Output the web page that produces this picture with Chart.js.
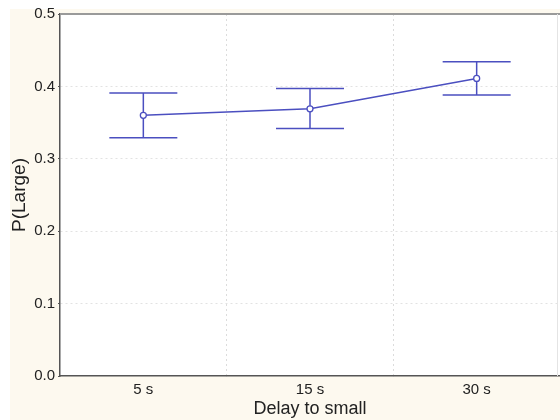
<!DOCTYPE html>
<html>
<head>
<meta charset="utf-8">
<title>P(Large) by delay</title>
<script src="https://cdn.jsdelivr.net/npm/chart.js@4.4.1/dist/chart.umd.min.js"></script>
<style>
  html, body { margin: 0; padding: 0; background: #fff; }
  #wrap { width: 560px; height: 420px; }
</style>
</head>
<body>
<div id="wrap"><canvas id="chart" width="560" height="420"></canvas></div>
<script>
// delays and mean proportion of large choices, with error bar ends
const delays = ['5 s', '15 s', '30 s'];
const pLarge = [0.360, 0.369, 0.411];
const pUpper = [0.391, 0.397, 0.434];
const pLower = [0.329, 0.342, 0.388];
const yTicks = [0.0, 0.1, 0.2, 0.3, 0.4, 0.5];

const BLUE = '#4b4fc0';
const FONT = "'Liberation Sans', Arial, Helvetica, sans-serif";

// cream figure background, white plot panel, grey frame on top
const panel = {
    id: 'panel',
    beforeDraw(chart) {
        const { ctx, chartArea: a } = chart;
        ctx.save();
        ctx.fillStyle = '#ffffff';
        ctx.fillRect(0, 0, chart.width, chart.height);
        ctx.fillStyle = '#fdf9ef';
        ctx.fillRect(10, 9, chart.width - 10, chart.height - 9);
        ctx.fillStyle = '#ffffff';
        ctx.fillRect(a.left, a.top, a.right - a.left, a.bottom - a.top);
        ctx.restore();
    },
    afterDraw(chart) {
        const { ctx, chartArea: a } = chart;
        ctx.save();
        ctx.strokeStyle = '#9a9a9a';
        ctx.lineWidth = 2;
        ctx.beginPath();
        ctx.moveTo(a.left, a.top);
        ctx.lineTo(chart.width, a.top);
        ctx.stroke();
        ctx.strokeStyle = '#e4e4e4';
        ctx.lineWidth = 1;
        ctx.beginPath();
        ctx.moveTo(a.right - 2.5, a.top);
        ctx.lineTo(a.right - 2.5, a.bottom);
        ctx.stroke();
        ctx.restore();
    }
};

// vertical error bars with caps, drawn under the points
const errorBars = {
    id: 'errorBars',
    beforeDatasetsDraw(chart) {
        const { ctx, scales: { x, y } } = chart;
        ctx.save();
        ctx.strokeStyle = BLUE;
        ctx.lineWidth = 1.5;
        delays.forEach((d, i) => {
            const px = x.getPixelForValue(i);
            const top = y.getPixelForValue(pUpper[i]);
            const bot = y.getPixelForValue(pLower[i]);
            ctx.beginPath();
            ctx.moveTo(px, top);
            ctx.lineTo(px, bot);
            ctx.moveTo(px - 34, top);
            ctx.lineTo(px + 34, top);
            ctx.moveTo(px - 34, bot);
            ctx.lineTo(px + 34, bot);
            ctx.stroke();
        });
        ctx.restore();
    }
};

new Chart(document.getElementById('chart'), {
    type: 'line',
    data: {
        labels: delays,
        datasets: [{
            data: pLarge,
            borderColor: BLUE,
            borderWidth: 1.5,
            pointRadius: 3,
            pointBackgroundColor: '#ffffff',
            pointBorderColor: BLUE,
            pointBorderWidth: 1.3,
            tension: 0
        }]
    },
    options: {
        responsive: false,
        animation: false,
        layout: { autoPadding: false, padding: { top: 14, right: 0, left: 0, bottom: 0 } },
        plugins: {
            legend: { display: false },
            tooltip: { enabled: false }
        },
        scales: {
            x: {
                offset: true,
                grid: {
                    offset: true,
                    color: '#dcdcdc',
                    tickLength: 0,
                    lineWidth: 1
                },
                border: { color: '#555', width: 1.5, dash: [2, 3] },
                ticks: {
                    color: '#222',
                    padding: 5,
                    font: { family: FONT, size: 15 }
                },
                title: {
                    display: true,
                    text: 'Delay to small',
                    color: '#222',
                    padding: { top: 0, bottom: 0 },
                    font: { family: FONT, size: 18 }
                },
                afterFit(scale) {
                    scale.height = 44;
                    scale.paddingLeft = 0;
                    scale.paddingRight = 0;
                }
            },
            y: {
                min: 0,
                max: 0.5,
                afterBuildTicks(scale) {
                    scale.ticks = yTicks.map(v => ({ value: v }));
                },
                grid: {
                    color: (c) => (c.tick && (c.tick.value === 0 || c.tick.value === 0.5)) ? 'rgba(0,0,0,0)' : '#e2e2e2',
                    tickColor: '#555',
                    tickLength: 2
                },
                border: { color: '#555', width: 1.5, dash: [2, 3] },
                ticks: {
                    color: '#222',
                    padding: 3,
                    font: { family: FONT, size: 15 },
                    callback: (v) => Number(v).toFixed(1)
                },
                title: {
                    display: true,
                    text: 'P(Large)',
                    color: '#222',
                    padding: { top: 8, bottom: 0 },
                    font: { family: FONT, size: 19 }
                },
                afterFit(scale) {
                    scale.width = 60;
                    scale.paddingTop = 0;
                    scale.paddingBottom = 0;
                }
            }
        }
    },
    plugins: [panel, errorBars]
});
</script>
</body>
</html>
